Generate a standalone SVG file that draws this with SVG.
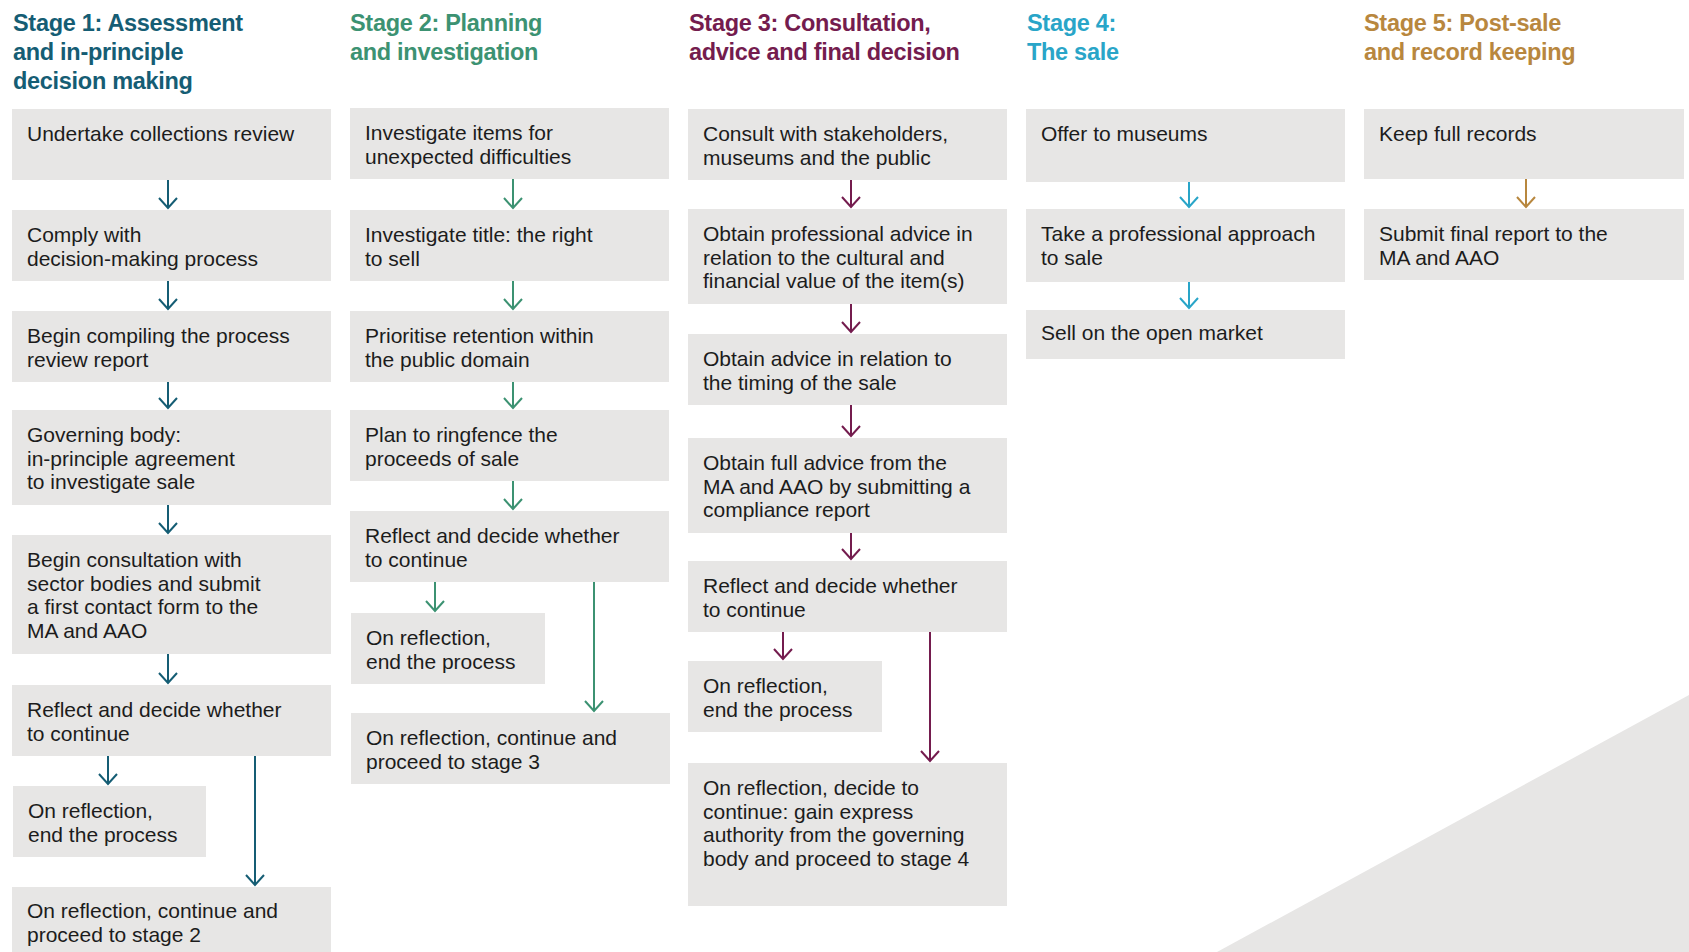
<svg xmlns="http://www.w3.org/2000/svg" width="1689" height="952" viewBox="0 0 1689 952">
<defs>
<style>
.box{fill:#e7e6e5}
.t{font-family:"Liberation Sans",Arial,sans-serif;font-size:21px;fill:#1c1c1c}
.h{font-family:"Liberation Sans",Arial,sans-serif;font-size:23.5px;font-weight:bold;letter-spacing:-0.3px}
.c1{stroke:#155d74}.c2{stroke:#3c9272}.c3{stroke:#741c4e}.c4{stroke:#29a5c8}.c5{stroke:#b8873e}
.ln{fill:none;stroke-width:2}
</style>
<marker id="a1" markerUnits="userSpaceOnUse" viewBox="-14 -14 28 28" markerWidth="28" markerHeight="28" refX="0" refY="0" orient="auto"><path d="M-10,-9 L0,0 L-10,9" fill="none" stroke="#155d74" stroke-width="2"/></marker>
<marker id="a2" markerUnits="userSpaceOnUse" viewBox="-14 -14 28 28" markerWidth="28" markerHeight="28" refX="0" refY="0" orient="auto"><path d="M-10,-9 L0,0 L-10,9" fill="none" stroke="#3c9272" stroke-width="2"/></marker>
<marker id="a3" markerUnits="userSpaceOnUse" viewBox="-14 -14 28 28" markerWidth="28" markerHeight="28" refX="0" refY="0" orient="auto"><path d="M-10,-9 L0,0 L-10,9" fill="none" stroke="#741c4e" stroke-width="2"/></marker>
<marker id="a4" markerUnits="userSpaceOnUse" viewBox="-14 -14 28 28" markerWidth="28" markerHeight="28" refX="0" refY="0" orient="auto"><path d="M-10,-9 L0,0 L-10,9" fill="none" stroke="#29a5c8" stroke-width="2"/></marker>
<marker id="a5" markerUnits="userSpaceOnUse" viewBox="-14 -14 28 28" markerWidth="28" markerHeight="28" refX="0" refY="0" orient="auto"><path d="M-10,-9 L0,0 L-10,9" fill="none" stroke="#b8873e" stroke-width="2"/></marker>
</defs>
<rect width="1689" height="952" fill="#ffffff"/>
<polygon points="1217,952 1689,695 1689,952" fill="#e7e6e5"/>

<g id="headings">
<text class="h" fill="#155d74"><tspan x="13" y="31">Stage 1: Assessment</tspan><tspan x="13" y="60">and in-principle</tspan><tspan x="13" y="89">decision making</tspan></text>
<text class="h" fill="#3c9272"><tspan x="350" y="31">Stage 2: Planning</tspan><tspan x="350" y="60">and investigation</tspan></text>
<text class="h" fill="#741c4e"><tspan x="689" y="31">Stage 3: Consultation,</tspan><tspan x="689" y="60">advice and final decision</tspan></text>
<text class="h" fill="#29a5c8"><tspan x="1027" y="31">Stage 4:</tspan><tspan x="1027" y="60">The sale</tspan></text>
<text class="h" fill="#b8873e"><tspan x="1364" y="31">Stage 5: Post-sale</tspan><tspan x="1364" y="60">and record keeping</tspan></text>
</g>

<g id="connectors">
<g class="ln c1">
<line x1="168" y1="180" x2="168" y2="208" marker-end="url(#a1)"/>
<line x1="168" y1="281" x2="168" y2="309" marker-end="url(#a1)"/>
<line x1="168" y1="382" x2="168" y2="408" marker-end="url(#a1)"/>
<line x1="168" y1="505" x2="168" y2="533" marker-end="url(#a1)"/>
<line x1="168" y1="654" x2="168" y2="683" marker-end="url(#a1)"/>
<line x1="108" y1="756" x2="108" y2="784" marker-end="url(#a1)"/>
<line x1="255" y1="756" x2="255" y2="885" marker-end="url(#a1)"/>
</g>
<g class="ln c2">
<line x1="513" y1="179" x2="513" y2="208" marker-end="url(#a2)"/>
<line x1="513" y1="281" x2="513" y2="309" marker-end="url(#a2)"/>
<line x1="513" y1="382" x2="513" y2="408" marker-end="url(#a2)"/>
<line x1="513" y1="481" x2="513" y2="509" marker-end="url(#a2)"/>
<line x1="435" y1="582" x2="435" y2="611" marker-end="url(#a2)"/>
<line x1="594" y1="582" x2="594" y2="711" marker-end="url(#a2)"/>
</g>
<g class="ln c3">
<line x1="851" y1="180" x2="851" y2="207" marker-end="url(#a3)"/>
<line x1="851" y1="304" x2="851" y2="332" marker-end="url(#a3)"/>
<line x1="851" y1="405" x2="851" y2="436" marker-end="url(#a3)"/>
<line x1="851" y1="533" x2="851" y2="559" marker-end="url(#a3)"/>
<line x1="783" y1="632" x2="783" y2="659" marker-end="url(#a3)"/>
<line x1="930" y1="632" x2="930" y2="761" marker-end="url(#a3)"/>
</g>
<g class="ln c4">
<line x1="1189" y1="182" x2="1189" y2="207" marker-end="url(#a4)"/>
<line x1="1189" y1="282" x2="1189" y2="308" marker-end="url(#a4)"/>
</g>
<g class="ln c5">
<line x1="1526" y1="179" x2="1526" y2="207" marker-end="url(#a5)"/>
</g>
</g>

<g id="s1n1"><rect class="box" x="12" y="109" width="319" height="71"/><text class="t"><tspan x="27" y="141">Undertake collections review</tspan></text></g>
<g id="s1n2"><rect class="box" x="12" y="210" width="319" height="71"/><text class="t"><tspan x="27" y="242">Comply with</tspan><tspan x="27" y="265.5">decision-making process</tspan></text></g>
<g id="s1n3"><rect class="box" x="12" y="311" width="319" height="71"/><text class="t"><tspan x="27" y="343">Begin compiling the process</tspan><tspan x="27" y="366.5">review report</tspan></text></g>
<g id="s1n4"><rect class="box" x="12" y="410" width="319" height="95"/><text class="t"><tspan x="27" y="442">Governing body:</tspan><tspan x="27" y="465.5">in-principle agreement</tspan><tspan x="27" y="489">to investigate sale</tspan></text></g>
<g id="s1n5"><rect class="box" x="12" y="535" width="319" height="119"/><text class="t"><tspan x="27" y="567">Begin consultation with</tspan><tspan x="27" y="590.5">sector bodies and submit</tspan><tspan x="27" y="614">a first contact form to the</tspan><tspan x="27" y="637.5">MA and AAO</tspan></text></g>
<g id="s1n6"><rect class="box" x="12" y="685" width="319" height="71"/><text class="t"><tspan x="27" y="717">Reflect and decide whether</tspan><tspan x="27" y="740.5">to continue</tspan></text></g>
<g id="s1n7"><rect class="box" x="13" y="786" width="193" height="71"/><text class="t"><tspan x="28" y="818">On reflection,</tspan><tspan x="28" y="841.5">end the process</tspan></text></g>
<g id="s1n8"><rect class="box" x="12" y="887" width="319" height="65"/><text class="t"><tspan x="27" y="918">On reflection, continue and</tspan><tspan x="27" y="941.5">proceed to stage 2</tspan></text></g>

<g id="s2n1"><rect class="box" x="350" y="108" width="319" height="71"/><text class="t"><tspan x="365" y="140">Investigate items for</tspan><tspan x="365" y="163.5">unexpected difficulties</tspan></text></g>
<g id="s2n2"><rect class="box" x="350" y="210" width="319" height="71"/><text class="t"><tspan x="365" y="242">Investigate title: the right</tspan><tspan x="365" y="265.5">to sell</tspan></text></g>
<g id="s2n3"><rect class="box" x="350" y="311" width="319" height="71"/><text class="t"><tspan x="365" y="343">Prioritise retention within</tspan><tspan x="365" y="366.5">the public domain</tspan></text></g>
<g id="s2n4"><rect class="box" x="350" y="410" width="319" height="71"/><text class="t"><tspan x="365" y="442">Plan to ringfence the</tspan><tspan x="365" y="465.5">proceeds of sale</tspan></text></g>
<g id="s2n5"><rect class="box" x="350" y="511" width="319" height="71"/><text class="t"><tspan x="365" y="543">Reflect and decide whether</tspan><tspan x="365" y="566.5">to continue</tspan></text></g>
<g id="s2n6"><rect class="box" x="351" y="613" width="194" height="71"/><text class="t"><tspan x="366" y="645">On reflection,</tspan><tspan x="366" y="668.5">end the process</tspan></text></g>
<g id="s2n7"><rect class="box" x="351" y="713" width="319" height="71"/><text class="t"><tspan x="366" y="745">On reflection, continue and</tspan><tspan x="366" y="768.5">proceed to stage 3</tspan></text></g>

<g id="s3n1"><rect class="box" x="688" y="109" width="319" height="71"/><text class="t"><tspan x="703" y="141">Consult with stakeholders,</tspan><tspan x="703" y="164.5">museums and the public</tspan></text></g>
<g id="s3n2"><rect class="box" x="688" y="209" width="319" height="95"/><text class="t"><tspan x="703" y="241">Obtain professional advice in</tspan><tspan x="703" y="264.5">relation to the cultural and</tspan><tspan x="703" y="288">financial value of the item(s)</tspan></text></g>
<g id="s3n3"><rect class="box" x="688" y="334" width="319" height="71"/><text class="t"><tspan x="703" y="366">Obtain advice in relation to</tspan><tspan x="703" y="389.5">the timing of the sale</tspan></text></g>
<g id="s3n4"><rect class="box" x="688" y="438" width="319" height="95"/><text class="t"><tspan x="703" y="470">Obtain full advice from the</tspan><tspan x="703" y="493.5">MA and AAO by submitting a</tspan><tspan x="703" y="517">compliance report</tspan></text></g>
<g id="s3n5"><rect class="box" x="688" y="561" width="319" height="71"/><text class="t"><tspan x="703" y="593">Reflect and decide whether</tspan><tspan x="703" y="616.5">to continue</tspan></text></g>
<g id="s3n6"><rect class="box" x="688" y="661" width="194" height="71"/><text class="t"><tspan x="703" y="693">On reflection,</tspan><tspan x="703" y="716.5">end the process</tspan></text></g>
<g id="s3n7"><rect class="box" x="688" y="763" width="319" height="143"/><text class="t"><tspan x="703" y="795">On reflection, decide to</tspan><tspan x="703" y="818.5">continue: gain express</tspan><tspan x="703" y="842">authority from the governing</tspan><tspan x="703" y="865.5">body and proceed to stage 4</tspan></text></g>

<g id="s4n1"><rect class="box" x="1026" y="109" width="319" height="73"/><text class="t"><tspan x="1041" y="141">Offer to museums</tspan></text></g>
<g id="s4n2"><rect class="box" x="1026" y="209" width="319" height="73"/><text class="t"><tspan x="1041" y="241">Take a professional approach</tspan><tspan x="1041" y="264.5">to sale</tspan></text></g>
<g id="s4n3"><rect class="box" x="1026" y="310" width="319" height="49"/><text class="t"><tspan x="1041" y="340">Sell on the open market</tspan></text></g>

<g id="s5n1"><rect class="box" x="1364" y="109" width="320" height="70"/><text class="t"><tspan x="1379" y="141">Keep full records</tspan></text></g>
<g id="s5n2"><rect class="box" x="1364" y="209" width="320" height="71"/><text class="t"><tspan x="1379" y="241">Submit final report to the</tspan><tspan x="1379" y="264.5">MA and AAO</tspan></text></g>
</svg>
